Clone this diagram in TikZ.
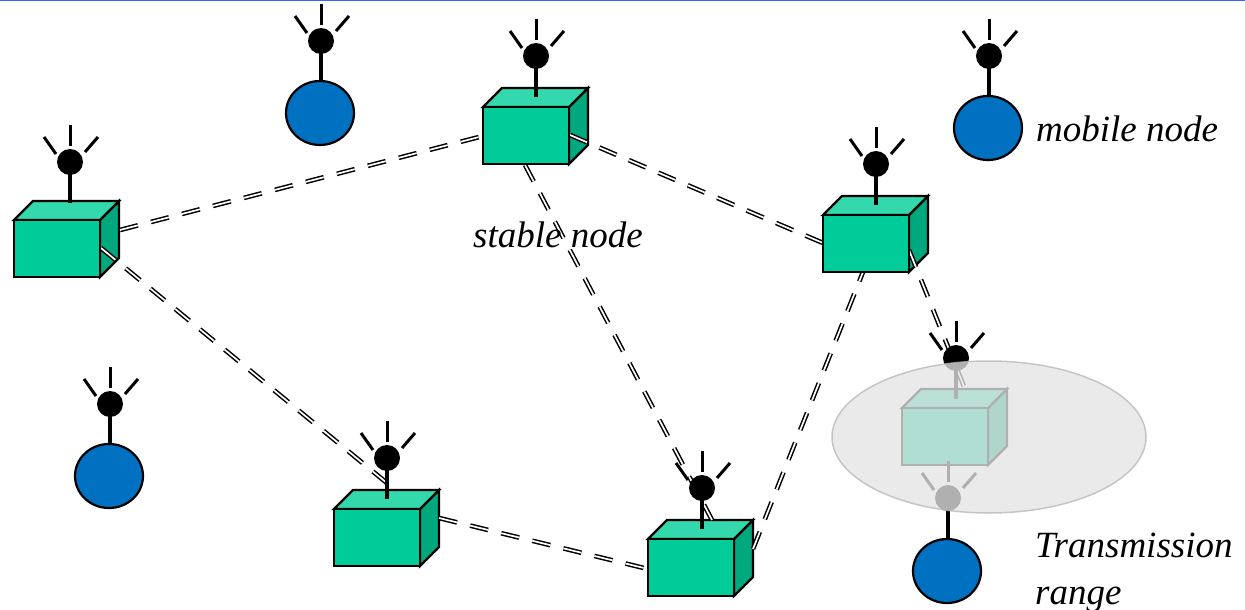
\documentclass[tikz,border=0pt]{standalone}
\usepackage{fontspec}
\setmainfont{Liberation Serif}
\usetikzlibrary{calc,shapes.geometric}
\definecolor{frontgreen}{HTML}{00CC99}
\definecolor{topgreen}{HTML}{33D9AD}
\definecolor{sidegreen}{HTML}{00A87E}
\definecolor{mobileblue}{HTML}{0070C0}
\definecolor{rangefill}{HTML}{E4E4E4}
\definecolor{rangeedge}{HTML}{B8B8B8}
\definecolor{topline}{HTML}{3366FF}
\tikzset{
  x=1pt,y=-1pt,
  face/.style={draw=black,line width=2.2pt,line join=miter},
  frontface/.style={face,fill=frontgreen,inner sep=0pt,outer sep=0pt,minimum width=86pt,minimum height=57pt,anchor=north west},
  link/.style={line width=1.5pt,double=white,double distance=1.7pt,dash pattern=on 18.5pt off 13.5pt},
  stalk/.style={line width=4.4pt,draw=black},
  ray/.style={line width=3pt,draw=black},
  antball/.style={circle,fill=black,inner sep=0pt,minimum size=26pt},
  mobilebody/.style={ellipse,draw=black,line width=2.2pt,fill=mobileblue,inner sep=0pt,minimum width=68pt,minimum height=64pt},
  label/.style={font=\fontsize{37}{37}\selectfont\itshape,anchor=base west,inner sep=0pt},
}
% name, x, y of front-face top-left corner
\newcommand{\boxback}[3]{%
  \draw[face,fill=sidegreen] (#2+86,#3) -- (#2+105,#3-19) -- (#2+105,#3+38) -- (#2+86,#3+57) -- cycle;
  \draw[face,fill=topgreen] (#2,#3) -- (#2+19,#3-19) -- (#2+105,#3-19) -- (#2+86,#3) -- cycle;
}
\newcommand{\boxfront}[3]{\node[frontface] (#1) at (#2,#3) {};}
% name, x, y of ball centre, stalk end y
\newcommand{\antenna}[4]{%
  \draw[stalk] (#2,#3) -- (#2,#4);
  \node[antball] (#1) at (#2,#3) {};
  \draw[ray] (#2,#3-16) -- (#2,#3-37);
  \draw[ray] (#2-14,#3-8) -- (#2-26,#3-25);
  \draw[ray] (#2+15,#3-10) -- (#2+28,#3-25);
}
\begin{document}
\begin{tikzpicture}
\useasboundingbox (0,0) rectangle (1245,610);
\fill[topline] (0,0) rectangle (1245,1.5);
% box backs
\boxback{a}{14}{220}
\boxback{b}{483}{107}
\boxback{c}{823}{215}
\boxback{d}{334}{509}
\boxback{e}{648}{539}
\boxback{f}{902}{408}
% link end points
\coordinate (ab1) at (120,230);
\coordinate (ab2) at (483,136);
\coordinate (ad1) at (101,248);
\coordinate (ad2) at (393,488);
\coordinate (bc1) at (570,135);
\coordinate (bc2) at (823,243);
\coordinate (be1) at (525,165);
\coordinate (be2) at (712,520);
\coordinate (ce1) at (863,272);
\coordinate (ce2) at (753,549);
\coordinate (cf1) at (909,250);
\coordinate (cf2) at (965,389);
\coordinate (de1) at (439,518);
\coordinate (de2) at (648,569);
\draw[link] (ab1) -- (ab2);
\draw[link] (ad1) -- (ad2);
\draw[link] (bc1) -- (bc2);
\draw[link] (be1) -- (be2);
\draw[link] (ce2) -- (ce1);
\draw[link] (cf1) -- (cf2);
\draw[link] (de1) -- (de2);
% box fronts
\boxfront{a}{14}{220}
\boxfront{b}{483}{107}
\boxfront{c}{823}{215}
\boxfront{d}{334}{509}
\boxfront{e}{648}{539}
\boxfront{f}{902}{408}
% antennas on boxes
\antenna{aa}{70}{162}{203}
\antenna{ab}{536}{56}{97}
\antenna{ac}{876}{164}{205}
\antenna{ad}{387}{458}{499}
\antenna{ae}{702}{488}{529}
\antenna{af}{956}{358}{399}
% mobile nodes
\node[mobilebody] (m1) at (320,113) {};
\node[mobilebody] (m2) at (988,128) {};
\node[mobilebody] (m3) at (109,476) {};
\node[mobilebody] (m4) at (947,571) {};
\antenna{am1}{321}{41}{81}
\antenna{am2}{989}{56}{96}
\antenna{am3}{110}{404}{444}
\antenna{am4}{948}{498}{539}
% range
\node[ellipse,draw=rangeedge,line width=1.5pt,fill=rangefill,opacity=.772,inner sep=0pt,minimum width=314pt,minimum height=152pt] (range) at (989,437) {};
% labels
\node[label] (lmobile) at (1036,141) {mobile node};
\node[label] (lstable) at (473,247) {stable node};
\node[label] (ltrans) at (1035,557) {Transmission};
\node[label] (lrange) at (1035,604) {range};
\end{tikzpicture}
\end{document}
